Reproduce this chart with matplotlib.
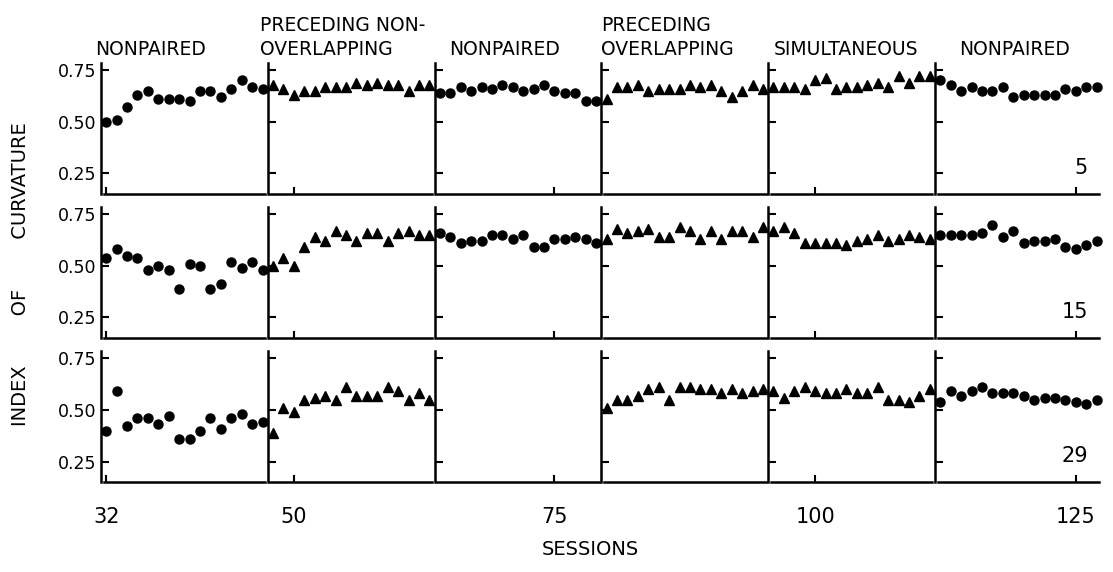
import numpy as np
import matplotlib
matplotlib.use("Agg")
import matplotlib.pyplot as plt

# phases of the experiment, 16 sessions each
phases = ["NONPAIRED", "PRECEDING NON-\nOVERLAPPING", "NONPAIRED",
          "PRECEDING\nOVERLAPPING", "SIMULTANEOUS", "NONPAIRED"]
phase_start = [32, 48, 64, 80, 96, 112]
phase_len = 16
paired = [False, True, False, True, True, False]
subjects = ["5", "15", "29"]
xticks = [32, 50, 75, 100, 125]
yticks = [0.25, 0.50, 0.75]

# index of curvature per phase
s5 = [
    [0.50, 0.51, 0.57, 0.63, 0.65, 0.61, 0.61, 0.61, 0.60, 0.65, 0.65, 0.62, 0.66, 0.70, 0.67, 0.66],
    [0.68, 0.66, 0.63, 0.65, 0.65, 0.67, 0.67, 0.67, 0.69, 0.68, 0.69, 0.68, 0.68, 0.65, 0.68, 0.68],
    [0.64, 0.64, 0.67, 0.65, 0.67, 0.66, 0.68, 0.67, 0.65, 0.66, 0.68, 0.65, 0.64, 0.64, 0.60, 0.60],
    [0.61, 0.67, 0.67, 0.68, 0.65, 0.66, 0.66, 0.66, 0.68, 0.67, 0.68, 0.65, 0.62, 0.65, 0.68, 0.66],
    [0.67, 0.67, 0.67, 0.66, 0.70, 0.71, 0.66, 0.67, 0.67, 0.68, 0.69, 0.67, 0.72, 0.69, 0.72, 0.72],
    [0.70, 0.68, 0.65, 0.67, 0.65, 0.65, 0.67, 0.62, 0.63, 0.63, 0.63, 0.63, 0.66, 0.65, 0.67, 0.67],
]
s15 = [
    [0.54, 0.58, 0.55, 0.54, 0.48, 0.50, 0.48, 0.39, 0.51, 0.50, 0.39, 0.41, 0.52, 0.49, 0.52, 0.48],
    [0.50, 0.54, 0.50, 0.59, 0.64, 0.62, 0.67, 0.65, 0.62, 0.66, 0.66, 0.62, 0.66, 0.67, 0.65, 0.65],
    [0.66, 0.64, 0.61, 0.62, 0.62, 0.65, 0.65, 0.63, 0.65, 0.59, 0.59, 0.63, 0.63, 0.64, 0.63, 0.61],
    [0.63, 0.68, 0.66, 0.67, 0.68, 0.64, 0.64, 0.69, 0.67, 0.63, 0.67, 0.63, 0.67, 0.67, 0.64, 0.69],
    [0.67, 0.69, 0.66, 0.61, 0.61, 0.61, 0.61, 0.60, 0.62, 0.63, 0.65, 0.62, 0.63, 0.65, 0.64, 0.63],
    [0.65, 0.65, 0.65, 0.65, 0.66, 0.70, 0.64, 0.67, 0.61, 0.62, 0.62, 0.63, 0.59, 0.58, 0.60, 0.62],
]
s29 = [
    [0.40, 0.59, 0.42, 0.46, 0.46, 0.43, 0.47, 0.36, 0.36, 0.40, 0.46, 0.41, 0.46, 0.48, 0.43, 0.44],
    [0.39, 0.51, 0.49, 0.55, 0.56, 0.57, 0.55, 0.61, 0.57, 0.57, 0.57, 0.61, 0.59, 0.55, 0.58, 0.55],
    None,
    [0.51, 0.55, 0.55, 0.57, 0.60, 0.61, 0.55, 0.61, 0.61, 0.60, 0.60, 0.58, 0.60, 0.58, 0.59, 0.60],
    [0.59, 0.56, 0.59, 0.61, 0.59, 0.58, 0.58, 0.60, 0.58, 0.58, 0.61, 0.55, 0.55, 0.54, 0.57, 0.60],
    [0.54, 0.59, 0.57, 0.59, 0.61, 0.58, 0.58, 0.58, 0.57, 0.55, 0.56, 0.56, 0.55, 0.54, 0.53, 0.55],
]
rows = [s5, s15, s29]

head_dx = [-6, -8, 15, 0, 6, 24]  # header offsets in pixels

fig = plt.figure(figsize=(11.13, 5.72), dpi=100)
gs = fig.add_gridspec(3, 6, left=0.0907, right=0.990, top=0.890, bottom=0.157,
                      hspace=0.1, wspace=0)

for r, data in enumerate(rows):
    for c in range(6):
        ax = fig.add_subplot(gs[r, c])
        lo = phase_start[c] - 0.5
        hi = lo + phase_len
        ax.set_xlim(lo, hi)
        ax.set_ylim(0.15, 0.785)
        for s in ["top", "right"]:
            ax.spines[s].set_visible(False)
        ax.spines["left"].set_linewidth(1.8)
        ax.spines["bottom"].set_linewidth(1.8)
        ax.spines["bottom"].set_bounds(lo + 0.25, hi - 0.25)

        vals = data[c]
        if vals is not None:
            x = np.arange(phase_start[c], phase_start[c] + phase_len)
            if paired[c]:
                ax.plot(x, vals, "^", color="black", ms=7, clip_on=False, zorder=3)
            else:
                ax.plot(x, vals, "o", color="black", ms=6.5, clip_on=False, zorder=3)

        ax.set_yticks(yticks)
        ax.tick_params(axis="y", direction="in", length=6, width=1.5,
                       labelsize=12.5, pad=3)
        if c == 0:
            ax.set_yticklabels(["0.25", "0.50", "0.75"])
        else:
            ax.set_yticklabels([])

        ax.set_xticks([t for t in xticks if lo <= t <= hi])
        ax.tick_params(axis="x", direction="in", length=5, width=1.5,
                       labelsize=15, pad=18)
        if r < 2:
            ax.set_xticklabels([])

        if r == 0:
            ax.annotate(phases[c], xy=(0, 1), xycoords="axes fraction",
                        xytext=(head_dx[c], 4), textcoords="offset pixels",
                        ha="left", va="bottom", fontsize=13.5, linespacing=1.3)
        if c == 5:
            ax.text(0.915, 0.12, subjects[r], transform=ax.transAxes,
                    ha="right", va="bottom", fontsize=15)

fig.text(0.018, 0.52, "INDEX        OF        CURVATURE", rotation=90,
         ha="center", va="center", fontsize=14)
fig.text(0.53, 0.04, "SESSIONS", ha="center", va="center", fontsize=14)

fig.savefig("out.png", dpi=100)
